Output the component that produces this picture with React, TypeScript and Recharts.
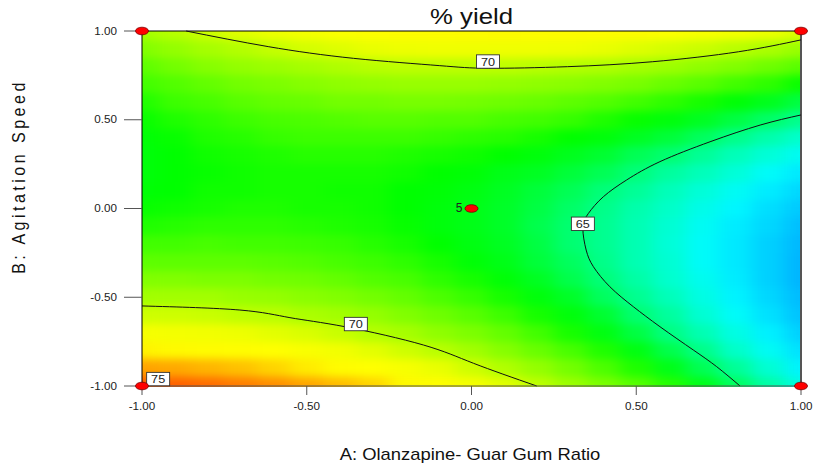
import React from 'react';
import { ComposedChart, XAxis, YAxis, Line, Scatter, ReferenceArea, ReferenceLine } from 'recharts';

// Axis ticks
const xTicks = [-1, -0.5, 0, 0.5, 1];
const yTicks = [-1, -0.5, 0, 0.5, 1];

// Grid of factor levels (A across, B down from +1 to -1)
const gridA = [-1, -0.9, -0.8, -0.7, -0.6, -0.5, -0.4, -0.3, -0.2, -0.1, 0, 0.1, 0.2, 0.3, 0.4, 0.5, 0.6, 0.7, 0.8, 0.9, 1];
const gridB = [1, 0.9, 0.8, 0.7, 0.6, 0.5, 0.4, 0.3, 0.2, 0.1, 0, -0.1, -0.2, -0.3, -0.4, -0.5, -0.6, -0.7, -0.8, -0.9, -1];

// % yield read from the surface, one row per B level
const yieldBp10 = [69.6, 70.0, 70.4, 70.8, 71.1, 71.4, 71.7, 71.9, 72.0, 72.1, 72.2, 72.3, 72.2, 72.2, 72.1, 72.0, 71.8, 71.6, 71.4, 71.1, 70.7];
const yieldBp09 = [68.8, 69.2, 69.6, 69.9, 70.2, 70.5, 70.7, 70.9, 71.0, 71.1, 71.1, 71.1, 71.1, 71.0, 70.9, 70.7, 70.5, 70.3, 70.0, 69.7, 69.3];
const yieldBp08 = [68.1, 68.5, 68.9, 69.2, 69.4, 69.6, 69.8, 70.0, 70.1, 70.1, 70.1, 70.1, 70.0, 69.9, 69.8, 69.6, 69.4, 69.1, 68.8, 68.4, 68.0];
const yieldBp07 = [67.6, 67.9, 68.2, 68.5, 68.7, 68.9, 69.1, 69.2, 69.3, 69.3, 69.3, 69.2, 69.1, 69.0, 68.8, 68.6, 68.3, 68.0, 67.6, 67.3, 66.8];
const yieldBp06 = [67.1, 67.5, 67.7, 68.0, 68.2, 68.3, 68.5, 68.5, 68.6, 68.6, 68.5, 68.4, 68.3, 68.1, 67.9, 67.6, 67.3, 67.0, 66.6, 66.2, 65.7];
const yieldBp05 = [66.8, 67.1, 67.3, 67.5, 67.7, 67.8, 67.9, 68.0, 68.0, 67.9, 67.9, 67.7, 67.6, 67.4, 67.1, 66.8, 66.5, 66.1, 65.7, 65.3, 64.8];
const yieldBp04 = [66.6, 66.8, 67.1, 67.2, 67.4, 67.5, 67.5, 67.5, 67.5, 67.4, 67.3, 67.2, 67.0, 66.7, 66.5, 66.1, 65.8, 65.4, 64.9, 64.4, 63.9];
const yieldBp03 = [66.5, 66.7, 66.9, 67.0, 67.1, 67.2, 67.2, 67.2, 67.1, 67.0, 66.9, 66.7, 66.5, 66.2, 65.9, 65.5, 65.2, 64.7, 64.2, 63.7, 63.2];
const yieldBp02 = [66.5, 66.7, 66.8, 66.9, 67.0, 67.0, 67.0, 67.0, 66.9, 66.7, 66.6, 66.3, 66.1, 65.8, 65.5, 65.1, 64.6, 64.2, 63.7, 63.1, 62.5];
const yieldBp01 = [66.6, 66.7, 66.9, 66.9, 67.0, 67.0, 66.9, 66.9, 66.7, 66.6, 66.4, 66.1, 65.8, 65.5, 65.1, 64.7, 64.2, 63.7, 63.2, 62.6, 62.0];
const yieldB000 = [66.8, 66.9, 67.0, 67.1, 67.1, 67.0, 67.0, 66.9, 66.7, 66.5, 66.3, 66.0, 65.7, 65.3, 64.9, 64.4, 64.0, 63.4, 62.9, 62.2, 61.6];
const yieldBm01 = [67.1, 67.2, 67.3, 67.3, 67.3, 67.2, 67.1, 67.0, 66.8, 66.5, 66.3, 66.0, 65.6, 65.2, 64.8, 64.3, 63.8, 63.2, 62.6, 62.0, 61.3];
const yieldBm02 = [67.6, 67.6, 67.7, 67.6, 67.6, 67.5, 67.4, 67.2, 67.0, 66.7, 66.4, 66.1, 65.7, 65.2, 64.8, 64.3, 63.7, 63.1, 62.5, 61.8, 61.1];
const yieldBm03 = [68.1, 68.1, 68.1, 68.1, 68.0, 67.9, 67.7, 67.5, 67.3, 67.0, 66.6, 66.3, 65.8, 65.4, 64.9, 64.3, 63.8, 63.1, 62.5, 61.8, 61.0];
const yieldBm04 = [68.8, 68.8, 68.7, 68.7, 68.5, 68.4, 68.2, 67.9, 67.7, 67.3, 67.0, 66.6, 66.1, 65.6, 65.1, 64.5, 63.9, 63.3, 62.6, 61.8, 61.0];
const yieldBm05 = [69.5, 69.5, 69.5, 69.3, 69.2, 69.0, 68.8, 68.5, 68.2, 67.8, 67.4, 67.0, 66.5, 66.0, 65.4, 64.8, 64.2, 63.5, 62.8, 62.0, 61.2];
const yieldBm06 = [70.4, 70.4, 70.3, 70.1, 70.0, 69.7, 69.5, 69.2, 68.8, 68.4, 68.0, 67.5, 67.0, 66.5, 65.9, 65.2, 64.6, 63.8, 63.1, 62.3, 61.4];
const yieldBm07 = [71.4, 71.3, 71.2, 71.0, 70.8, 70.6, 70.3, 69.9, 69.6, 69.1, 68.7, 68.2, 67.6, 67.0, 66.4, 65.7, 65.0, 64.3, 63.5, 62.7, 61.8];
const yieldBm08 = [72.5, 72.4, 72.2, 72.0, 71.8, 71.5, 71.2, 70.8, 70.4, 70.0, 69.5, 68.9, 68.3, 67.7, 67.1, 66.4, 65.6, 64.9, 64.0, 63.2, 62.3];
const yieldBm09 = [73.7, 73.6, 73.4, 73.2, 72.9, 72.6, 72.2, 71.8, 71.4, 70.9, 70.4, 69.8, 69.2, 68.5, 67.8, 67.1, 66.3, 65.5, 64.7, 63.8, 62.8];
const yieldBm10 = [75.1, 74.9, 74.7, 74.4, 74.1, 73.7, 73.3, 72.9, 72.4, 71.9, 71.4, 70.8, 70.1, 69.4, 68.7, 68.0, 67.2, 66.3, 65.4, 64.5, 63.5];

const yieldRows = [
  yieldBp10, yieldBp09, yieldBp08, yieldBp07, yieldBp06, yieldBp05, yieldBp04,
  yieldBp03, yieldBp02, yieldBp01, yieldB000, yieldBm01, yieldBm02, yieldBm03,
  yieldBm04, yieldBm05, yieldBm06, yieldBm07, yieldBm08, yieldBm09, yieldBm10,
];

// Contour lines
const contourTop70 = [
  { a: -0.866, b: 1.0 }, { a: -0.617, b: 0.912 }, { a: -0.358, b: 0.846 }, { a: -0.098, b: 0.805 },
  { a: 0.051, b: 0.79 }, { a: 0.291, b: 0.799 }, { a: 0.55, b: 0.827 }, { a: 0.81, b: 0.883 }, { a: 1.0, b: 0.95 },
];
const contourBottom70 = [
  { a: -1.0, b: -0.549 }, { a: -0.703, b: -0.572 }, { a: -0.551, b: -0.615 }, { a: -0.384, b: -0.666 },
  { a: -0.146, b: -0.769 }, { a: 0.006, b: -0.872 }, { a: 0.198, b: -1.0 },
];
const contour65 = [
  { a: 1.0, b: 0.527 }, { a: 0.876, b: 0.47 }, { a: 0.724, b: 0.376 }, { a: 0.572, b: 0.264 },
  { a: 0.471, b: 0.161 }, { a: 0.4, b: 0.066 }, { a: 0.355, b: -0.027 }, { a: 0.338, b: -0.11 },
  { a: 0.348, b: -0.234 }, { a: 0.37, b: -0.328 }, { a: 0.42, b: -0.441 }, { a: 0.491, b: -0.553 },
  { a: 0.572, b: -0.666 }, { a: 0.673, b: -0.797 }, { a: 0.744, b: -0.891 }, { a: 0.815, b: -1.0 },
];

// Contour labels
const contourLabels = [
  { a: 0.05, b: 0.828, text: '70' },
  { a: -0.351, b: -0.651, text: '70' },
  { a: 0.338, b: -0.086, text: '65' },
  { a: -0.951, b: -0.961, text: '75' },
];

// Design points
const designPoints = [
  { a: -1, b: 1, label: '' },
  { a: 1, b: 1, label: '' },
  { a: -1, b: -1, label: '' },
  { a: 1, b: -1, label: '' },
  { a: 0, b: 0, label: '5' },
];

// Colour map (style)
const stopV = [60.5, 61, 62, 63, 64, 65, 66, 66.7, 67.5, 68.5, 70, 71, 71.8, 72.4, 73, 74, 75, 76];
const stopC = [
  [0, 160, 255], [0, 180, 255], [0, 215, 255], [0, 250, 255], [0, 255, 200], [0, 255, 130],
  [0, 255, 40], [0, 255, 0], [60, 255, 0], [115, 255, 0], [185, 255, 0], [238, 255, 0],
  [255, 255, 0], [255, 250, 0], [255, 205, 0], [255, 145, 0], [255, 90, 0], [255, 60, 0],
];
function colorFor(v: number): string {
  if (v <= stopV[0]) return `rgb(${stopC[0].join(',')})`;
  for (let i = 1; i < stopV.length; i++) {
    if (v <= stopV[i]) {
      const t = (v - stopV[i - 1]) / (stopV[i] - stopV[i - 1]);
      const c = stopC[i - 1].map((s, k) => Math.round(s + (stopC[i][k] - s) * t));
      return `rgb(${c.join(',')})`;
    }
  }
  return `rgb(${stopC[stopC.length - 1].join(',')})`;
}

const FONT = '"Liberation Sans", Arial, Helvetica, sans-serif';
const A_MIN = -1;
const A_MAX = 1;
const B_MIN = -1;
const B_MAX = 1;

// The whole response field, drawn inside the plot rectangle that Recharts' scales give
// to a ReferenceArea spanning the full design space; cells are placed proportionally
// to their factor levels and softened with a blur filter.
const HeatField = (props: any) => {
  const { x, y, width, height } = props;
  if (x == null || width == null) return null;
  const ax = (a: number) => x + ((a - A_MIN) / (A_MAX - A_MIN)) * width;
  const by = (b: number) => y + ((B_MAX - b) / (B_MAX - B_MIN)) * height;
  const da = (gridA[1] - gridA[0]) / 2;
  const db = (gridB[0] - gridB[1]) / 2;
  const rects: React.ReactNode[] = [];
  gridB.forEach((b, r) => {
    gridA.forEach((a, c) => {
      const x0 = ax(Math.max(A_MIN, a - da));
      const x1 = ax(Math.min(A_MAX, a + da));
      const y0 = by(Math.min(B_MAX, b + db));
      const y1 = by(Math.max(B_MIN, b - db));
      rects.push(
        <rect
          key={`${r}-${c}`}
          x={x0}
          y={y0}
          width={x1 - x0 + 0.5}
          height={y1 - y0 + 0.5}
          fill={colorFor(yieldRows[r][c])}
          shapeRendering="crispEdges"
        />
      );
    });
  });
  return <g filter="url(#smoothField)">{rects}</g>;
};

const YTick = (props: any) => {
  const { x, y, payload } = props;
  return (
    <text transform={`translate(${x},${y + 3.5}) scale(1.17,1)`} textAnchor="end" fontSize={10} fill="#222" fontFamily={FONT}>
      {Number(payload.value).toFixed(2)}
    </text>
  );
};
const XTick = (props: any) => {
  const { x, y, payload } = props;
  return (
    <text transform={`translate(${x},${y + 9}) scale(1.17,1)`} textAnchor="middle" fontSize={10} fill="#222" fontFamily={FONT}>
      {Number(payload.value).toFixed(2)}
    </text>
  );
};

const LabelBox = (props: any) => {
  const { cx, cy, payload } = props;
  if (cx == null || cy == null) return null;
  return (
    <g>
      <rect x={cx - 11.5} y={cy - 6.7} width={23} height={13.4} fill="#fff" stroke="#333" strokeWidth={0.9} />
      <text transform={`translate(${cx},${cy + 4.2}) scale(1.15,1)`} textAnchor="middle" fontSize={11} fill="#222" fontFamily={FONT}>
        {payload.text}
      </text>
    </g>
  );
};

const RedDot = (props: any) => {
  const { cx, cy, payload } = props;
  if (cx == null || cy == null) return null;
  return (
    <g>
      <ellipse cx={cx} cy={cy} rx={6.5} ry={3.8} fill="#ff0000" stroke="#700" strokeWidth={0.8} />
      {payload.label ? (
        <text x={cx - 9} y={cy + 3.8} textAnchor="end" fontSize={12} fill="#222" fontFamily={FONT}>
          {payload.label}
        </text>
      ) : null}
    </g>
  );
};

export default function App() {
  return (
    <div style={{ position: 'relative', width: 815, height: 459, fontFamily: FONT }}>
      <svg width={0} height={0} style={{ position: 'absolute' }}>
        <defs>
          <filter id="smoothField" x="0" y="0" width="1" height="1" colorInterpolationFilters="sRGB">
            <feGaussianBlur stdDeviation="9 4.5" edgeMode="duplicate" />
            <feComponentTransfer>
              <feFuncA type="linear" slope="0" intercept="1" />
            </feComponentTransfer>
          </filter>
        </defs>
      </svg>
      <ComposedChart width={815} height={459} margin={{ top: 23, right: 22, bottom: 51, left: 0 }}>
        <XAxis
          type="number"
          dataKey="a"
          domain={[A_MIN, A_MAX]}
          ticks={xTicks}
          height={30}
          tickSize={9}
          tickMargin={6}
          axisLine={{ stroke: '#555' }}
          tickLine={{ stroke: '#555' }}
          tick={<XTick />}
        />
        <YAxis
          type="number"
          dataKey="b"
          domain={[B_MIN, B_MAX]}
          ticks={yTicks}
          width={134}
          tickSize={18}
          tickMargin={7}
          axisLine={{ stroke: '#000' }}
          tickLine={{ stroke: '#555' }}
          tick={<YTick />}
        />
        <ReferenceArea
          x1={A_MIN}
          x2={A_MAX}
          y1={B_MIN}
          y2={B_MAX}
          fillOpacity={1}
          stroke="none"
          shape={(p: any) => <HeatField {...p} />}
        />
        <ReferenceLine y={1} stroke="#000" strokeWidth={1} />
        <ReferenceLine x={1} stroke="#555" strokeWidth={2} />
        <Line data={contourTop70} dataKey="b" type="natural" stroke="#111" strokeWidth={1} dot={false} isAnimationActive={false} />
        <Line data={contourBottom70} dataKey="b" type="natural" stroke="#111" strokeWidth={1} dot={false} isAnimationActive={false} />
        <Line data={contour65} dataKey="b" type="natural" stroke="#111" strokeWidth={1} dot={false} isAnimationActive={false} />
        <Scatter data={contourLabels} dataKey="b" shape={LabelBox} isAnimationActive={false} />
        <Scatter data={designPoints} dataKey="b" shape={RedDot} isAnimationActive={false} />
      </ComposedChart>
      <svg width={815} height={459} style={{ position: 'absolute', left: 0, top: 0, pointerEvents: 'none', overflow: 'visible' }}>
        <text transform="translate(463.5,15.8) scale(1.17,1)" textAnchor="middle" fontSize={22} fill="#111" fontFamily={FONT}>
          % yield
        </text>
        <text transform="translate(462,452) scale(1.15,1)" textAnchor="middle" fontSize={16} fill="#111" fontFamily={FONT}>
          A: Olanzapine- Guar Gum Ratio
        </text>
        <text transform="translate(17,168.5) rotate(-90) scale(1,1.17)" textAnchor="middle" fontSize={16} letterSpacing={3.5} fill="#111" fontFamily={FONT}>
          B: Agitation Speed
        </text>
      </svg>
    </div>
  );
}
